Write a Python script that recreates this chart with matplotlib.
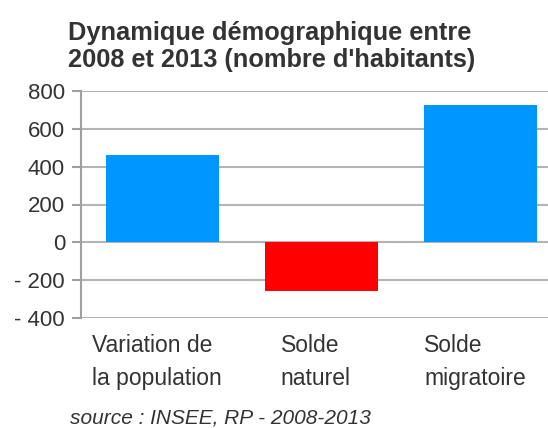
import matplotlib
matplotlib.use("Agg")
import matplotlib.pyplot as plt
from matplotlib.ticker import FuncFormatter
import matplotlib.transforms as mtransforms

categories = ["Variation de\nla population", "Solde\nnaturel", "Solde\nmigratoire"]
values = [462, -255, 725]
colors = ["#0096FF", "#FF0000", "#0096FF"]
yticks = [-400, -200, 0, 200, 400, 600, 800]
title_lines = ["Dynamique démographique entre", "2008 et 2013 (nombre d'habitants)"]
source = "source : INSEE, RP - 2008-2013"

plt.rcParams['font.family'] = ['Liberation Sans', 'DejaVu Sans']

W, H = 548, 428
fig = plt.figure(figsize=(W / 100, H / 100), dpi=100)
ax = fig.add_axes([81 / W, (H - 318.3) / H, 477 / W, (318.3 - 90.7) / H])

x = list(range(len(categories)))
ax.bar(x, values, width=0.71, color=colors, zorder=3)
ax.set_xlim(-0.515, 2.485)
ax.set_ylim(-400, 800)
ax.set_yticks(yticks)
ax.yaxis.set_major_formatter(FuncFormatter(lambda v, p: f"- {abs(int(v))}" if v < 0 else f"{int(v)}"))
ax.grid(axis='y', color='#b4b4b4', linewidth=1.5, zorder=0)
for s in ['top', 'right', 'bottom']:
    ax.spines[s].set_visible(False)
ax.spines['left'].set_color('#a0a0a0')
ax.spines['left'].set_linewidth(1.5)
ax.tick_params(axis='y', length=6.5, width=1.5, color='#a0a0a0', labelsize=16,
               labelcolor='#333333', pad=5)
ax.set_xticks(x)
ax.set_xticklabels(categories, fontsize=16.5, color='#333333', multialignment='left',
                   linespacing=1.6)
ax.tick_params(axis='x', length=0, pad=11)
offset = mtransforms.ScaledTranslation(-6 / 100, 0, fig.dpi_scale_trans)
for lbl in ax.get_xticklabels():
    lbl.set_transform(lbl.get_transform() + offset)

fig.text(68 / W, 1 - 40 / H, title_lines[0], ha='left', va='baseline',
         fontsize=18.3, fontweight='bold', color='#333333')
fig.text(68 / W, 1 - 66.5 / H, title_lines[1], ha='left', va='baseline',
         fontsize=18.3, fontweight='bold', color='#333333')
fig.text(70 / W, 1 - 423 / H, source, ha='left', va='baseline',
         fontsize=15, style='italic', color='#333333')

fig.savefig("out.png", dpi=100)
